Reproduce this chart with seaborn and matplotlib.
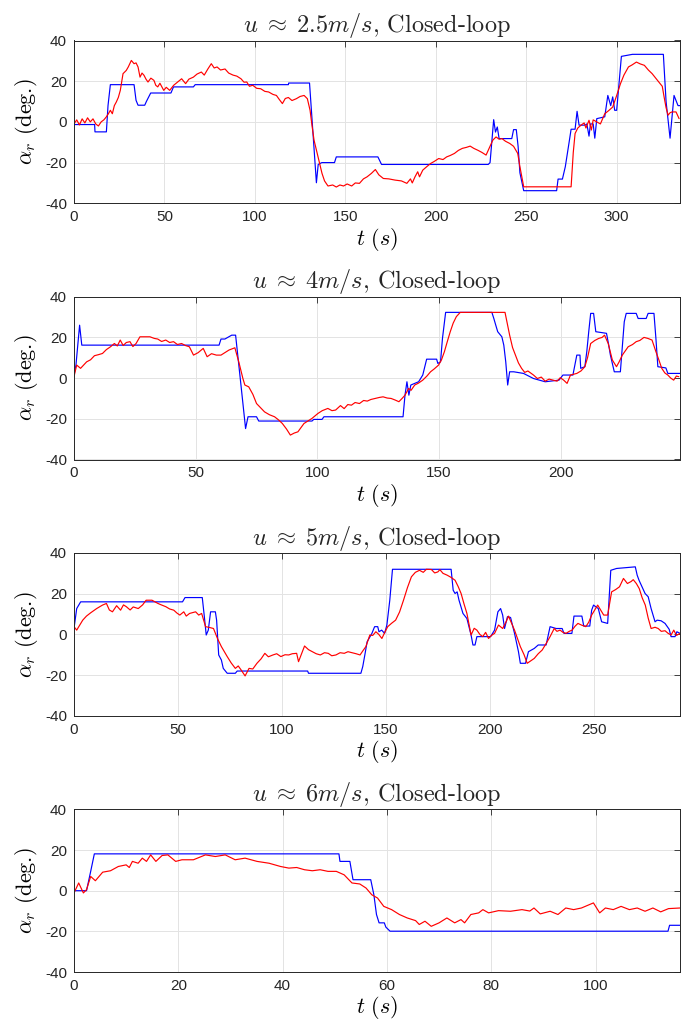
import numpy as np
import pandas as pd
import matplotlib
matplotlib.use("Agg")
import matplotlib.pyplot as plt
import seaborn as sns

# ---------------- data (t [s], alpha_r [deg]) ----------------
titles = [r"$u\;\approx\;2.5m/s$, Closed-loop", r"$u\;\approx\;4m/s$, Closed-loop",
          r"$u\;\approx\;5m/s$, Closed-loop", r"$u\;\approx\;6m/s$, Closed-loop"]
xmaxs = [335, 249, 291.5, 116.2]
xtick_steps = [50, 50, 50, 20]
yticks = [-40, -20, 0, 20, 40]

ref1 = [(0,-1.3),(11.4,-1.3),(11.6,-4.9),(17.9,-4.9),(18.8,8),(20.1,18.3),(33.2,18.3),(34.3,10.6),(35.4,8.2),(39.1,8.2),(40,10),(42.4,14.2),(53.6,14.2),(55,17.2),(66,17.2),(67,18.3),(118.5,18.3),(118.7,19.1),(130.2,19.1),(134,-29.9),(135,-20.9),(137,-20),(144,-20),(145,-17.2),(168,-17.2),(170,-20.9),(229,-20.9),(230,-20),(232,1.1),(233,-5),(234,-2.5),(235,-8.2),(242,-8.2),(243,-3.8),(244.5,-3.8),(245.5,-12),(246.5,-25),(248.6,-33.8),(266.8,-33.8),(267.6,-28.1),(270,-28.1),(271.6,-22),(273.7,-10),(274.8,-3.6),(277,-3.6),(278.1,5.2),(279.2,-1.6),(282.5,-1.6),(283.5,-1),(284.7,-7),(285.5,-1),(287,-1),(287.9,-8),(289,1.6),(293.4,2.5),(295.1,13),(296.7,8),(297.8,12.3),(298.9,5.7),(300,5.7),(302.6,32.2),(308.7,33.2),(325.8,33.2),(327.3,10),(329.5,-8),(331.7,13),(333.9,8),(335,8)]
meas1 = [(0,-1),(1.5,1),(3,-1.5),(4.5,1.5),(6,-0.5),(7.5,2),(9,0),(10.5,1.5),(12,-1),(13.5,-2),(15,0),(16.5,1),(17.9,2.5),(19,4),(20.1,5.7),(21.2,4),(22.3,8),(23.4,9.8),(24.5,12),(25.6,15.5),(27.1,23.7),(28.9,25.3),(30,27),(31.7,30.2),(33.2,28.6),(34.3,29),(35.4,27),(36.5,22),(37.6,24),(38.7,22.9),(39.8,21),(40.9,19.6),(42.5,21.5),(44.2,20.4),(45.2,18),(46.3,17.2),(47.5,19),(49.6,15.5),(51,17),(52.9,15.5),(55.1,18),(57.3,19.6),(59.5,21.2),(61.7,18.8),(63.5,21),(66,22),(68,23.5),(70.4,24.5),(72,23),(74,26),(75.9,28.6),(77.5,26.5),(79.1,27),(81,25.5),(83.5,26),(85.5,24),(87.9,23),(90,22.5),(92.3,21.2),(94,19.5),(95.5,19.6),(97,17.5),(98.8,18),(101,16.5),(103.2,16.3),(105.5,15),(107.6,14.7),(110,13.5),(111.9,13),(113.5,11),(115.2,9),(116.8,11.5),(118.5,12),(120.5,10.5),(122.9,11.4),(125,12.5),(127.2,13),(129,11.4),(130.5,5.7),(131.6,-2),(132.7,-9),(134.9,-17.2),(137.1,-25.3),(138.5,-29),(140.4,-31.5),(143,-31),(145,-32),(147,-31),(149,-31.5),(151,-30.5),(153.5,-31.5),(155.5,-30),(157.8,-30.2),(160,-28),(162,-27),(164.4,-25.3),(166.6,-23.4),(168.5,-26),(171,-27.8),(174,-28),(177.5,-28.6),(181,-29),(184,-30.2),(186,-28),(187,-30),(188.5,-27),(190,-24.5),(191,-27),(192.8,-23.7),(195,-22),(197.2,-20.4),(199,-19.5),(201.6,-18),(204,-18.5),(206,-17.2),(208,-16.5),(210.3,-15.5),(212.5,-14),(214.7,-13),(217,-12.5),(219,-11.9),(221,-13),(223.4,-14),(225.5,-15),(227.8,-16.3),(230,-12),(231.5,-9),(233.3,-7.4),(235,-8.5),(236.6,-8.2),(238.5,-9.5),(240.9,-10.6),(243,-12),(245.3,-15.5),(246.5,-22),(248.6,-31.9),(274.8,-31.9),(276,-15),(277,-5.7),(278.5,-3),(280.3,-1.6),(282,-0.5),(283,-3),(284.7,0.8),(286,-4),(287,1),(289,0),(291,-1),(293.4,4),(295.5,5.5),(297.8,7.3),(300,13),(302.1,18.8),(304,23),(306.5,27),(308.5,28),(310.9,29.4),(313,28.5),(315.3,27.8),(317.5,25.5),(319.6,23.7),(322,21),(324,18.8),(325.2,17.5),(326.2,12.3),(327.3,7),(328.4,3.3),(329.5,4.5),(330.6,4.9),(332.8,4.9),(334.5,1.6)]

ref2 = [(0,1.5),(0.8,6.4),(2.3,26),(3.2,16.2),(59.6,16.2),(60.4,19.2),(62,19.2),(64.8,21.1),(66.4,21.1),(68.6,-3.4),(70.5,-24.8),(71.5,-19),(75,-19),(75.9,-21.1),(97.8,-21.1),(98.5,-20.3),(101.9,-20.3),(102.7,-19),(135.2,-19),(136,-8.4),(136.8,-1.8),(137.6,-8.4),(138.4,-3.4),(141.6,-1.8),(143.3,1.5),(144.9,9.3),(149,9.3),(149.5,7.2),(150.6,8),(151.4,19.5),(152.7,32.3),(171.7,32.3),(172.5,29.3),(173.3,26),(174.1,22.8),(175.8,20.3),(176.6,16.2),(177.4,8),(178.2,-3.4),(179,3.1),(180.7,3.1),(184.7,2.3),(188.8,-0.2),(193.6,-1.8),(199.3,-1),(200.9,1.5),(205,1.5),(205.8,6.4),(206.6,11.3),(207.9,11.3),(208.2,4.8),(209.9,5.6),(210.7,13),(211.5,22.8),(212.3,31.8),(213.5,31.8),(214.4,22.8),(218.8,22),(219.6,17),(220.4,11.3),(222,3.1),(224.5,3.1),(226.1,27.7),(226.9,31.8),(231,31.8),(231.8,29.3),(235.1,29.3),(235.9,31.8),(238.3,31.8),(239.1,19.5),(239.9,5.6),(243.2,5),(244,2.3),(249,2.3)]
meas2 = [(0,0.7),(1.1,6.4),(2.7,4.8),(5.2,8),(6.8,9),(8.4,11),(10,11.5),(11.7,12.1),(13.3,14),(15,15.4),(16.6,17),(17.8,15.8),(19,18.7),(20.2,16),(21.5,17.5),(23,17.9),(24.2,15.5),(25.5,17),(27.1,20.3),(31.2,20.3),(33,19.5),(34.4,19.2),(36,18),(37.7,18.7),(39.3,17.5),(40.9,17.9),(42.5,16.5),(44.2,17),(45.8,16),(47.4,15.4),(49.1,11.3),(51,12.5),(53.1,14.6),(54.7,10.5),(56.5,12),(58.5,11.3),(60.4,11.3),(62,12.5),(63.7,13.8),(66.1,14.9),(67.7,8),(69.4,-0.2),(70.2,-3.4),(71.8,-4.3),(73.5,-8),(75,-12.5),(76.6,-14.5),(78.3,-16.6),(80.3,-18),(82.4,-19),(84,-20.5),(85.6,-22.3),(87.3,-25),(88.9,-28),(90.5,-27),(92,-26.4),(94.5,-22.3),(97.8,-19.8),(100.2,-17.4),(102,-16),(104.3,-14.9),(106,-16),(107.5,-15.7),(109.5,-13.5),(111,-15),(112.5,-13),(114,-13.3),(115.5,-12),(117.3,-12.5),(119,-11),(120.5,-11.3),(122,-10.5),(123.8,-10),(125.5,-9.5),(127,-9.2),(128.7,-9.8),(130.3,-10),(132,-10.8),(133.5,-11.6),(134.8,-10),(136,-8.4),(137.5,-5.1),(138.5,-6),(140,-3.4),(141.5,-2.5),(143.3,-1),(145,1),(146.5,3.1),(148,4.5),(149.8,6.4),(151,9),(152.2,13),(153.4,18),(154.6,22.8),(155.8,27),(157.1,30.2),(158.7,32.3),(177.1,32.3),(178,27),(179,21.1),(180.2,15),(181.4,11.3),(182.6,7.5),(183.9,4.8),(185.2,2.8),(186.5,3.5),(188.8,1.5),(190.4,-0.2),(192,0.5),(193.6,-1.5),(195.2,-0.5),(196.9,-1),(198.5,-1.5),(199.8,0.2),(201.2,-1),(202.6,-2.6),(204,1.5),(206.6,2.3),(208.3,3.5),(209.9,5.6),(211,10),(212.3,17),(214,18.5),(215.6,19.5),(217,20),(218,21.1),(219.5,17),(221.2,8.9),(222.9,5.6),(224,8),(225.3,11.3),(227.7,15.4),(229.5,16.5),(231,17.9),(232.5,18.5),(234.2,20),(235.8,19.5),(237.5,18.7),(239.1,13),(240.3,9),(241.5,4.8),(242.8,2.5),(244,1.5),(245.2,0),(246.4,-1),(247.5,1),(248.5,0.7)]

ref3 = [(0,2.9),(1.3,12.7),(3.2,16),(52.2,16),(53.4,18.1),(61.7,18.1),(62.7,8.7),(63.6,-0.3),(64.6,2.1),(65.7,11.1),(68,11.1),(68.6,7),(69.6,-10.1),(70.9,-12.6),(71.8,-16.7),(73.7,-19.1),(77.6,-19.1),(78.5,-18),(112.4,-18),(112.8,-19.1),(138,-19.1),(138.9,-15.8),(139.9,-10.1),(141,-3.6),(143.3,0.5),(144.6,3.8),(146.1,3.8),(146.7,1.3),(148,2.1),(149.4,0.5),(150.5,4.6),(151.9,16.8),(153.2,32),(181.4,32),(182.4,21.7),(183.3,20.1),(184.3,20.9),(185.2,16.8),(187.1,10.3),(189,7.8),(191,-0.3),(191.9,-5.2),(192.9,-5.2),(193.8,-1.1),(200.4,-1.1),(202.3,2.1),(203.9,11.1),(205.2,12.7),(206.2,9.5),(207.1,2.9),(208.5,8.7),(210,8.3),(211.9,0.5),(213.8,-8.5),(214.7,-14.2),(217.2,-14.2),(218.6,-8.5),(221.4,-6.9),(223.3,-5.2),(227.1,-5.2),(229,3.8),(231.9,2.9),(234.8,2.9),(235.7,0.5),(239.5,0.5),(240.5,9),(244.3,9),(245.2,4.1),(248.1,4.1),(249,11.9),(249.9,14.4),(252.2,12.7),(253.8,6.2),(256.7,5.4),(258.2,31.5),(261,32.4),(270,33.2),(270.9,29.1),(271.8,26.6),(274.7,20.1),(276.2,18.5),(277.6,12.7),(279.5,6.2),(280.5,7),(282.4,6.7),(284.3,5.4),(286.3,2.5),(287.2,-1.1),(289.1,-1.1),(290,1.3),(291.5,0.5)]
meas3 = [(0,3.8),(1.3,2.1),(4.2,7),(6,9),(8,10.6),(10.9,12.7),(13.7,14.4),(15.6,15.2),(17,12),(18.5,11.1),(20.5,14.1),(22.4,11.9),(23.8,14.5),(25.2,13.6),(27,12),(28.5,13.5),(30.9,12.7),(33,14.5),(34.7,16.8),(37.5,16.8),(40.4,15.2),(42,14.5),(44.2,13.6),(46,12.5),(48,11.9),(49.5,10.5),(50.9,9.5),(52.8,11.1),(54,9),(55.6,10.3),(58.5,11.1),(60,9.5),(61.4,10.3),(63.3,3.8),(65.2,3.4),(67.1,2.9),(69,-2),(70.9,-6),(73.7,-10.9),(75.6,-14),(77.6,-16.7),(79,-15.5),(80.4,-17.5),(82.3,-20.4),(84.2,-16.7),(86,-17),(88,-14.2),(90,-12),(91.8,-9.3),(93.5,-11),(95.7,-10.1),(97.5,-9.5),(99.5,-10.9),(101.5,-10),(103.3,-10.1),(105,-9.5),(107.1,-9.3),(108,-13.4),(110.9,-5.7),(112.8,-7.5),(114.7,-8.5),(116.5,-9.5),(118.5,-10.1),(120.5,-9),(122.3,-9.3),(124,-10.5),(126,-10.1),(128,-9),(130,-9.3),(131.8,-8.5),(133.8,-9),(135.7,-9.5),(137.6,-10.1),(139,-8),(140.4,-6),(142.3,-0.3),(143.7,-0.5),(145.2,1.3),(146.6,0),(148.1,-2),(149.5,1),(150.9,3.8),(152.8,5.5),(154.7,7),(156.6,11),(158.5,16.8),(160.4,23),(162.3,28.3),(164.2,30.5),(166.2,31.5),(168,30.5),(169.5,32),(171.9,31.9),(173.5,30.2),(175,30.7),(176,31.8),(177.5,30),(179.5,29.1),(181.4,28),(183.3,26.6),(184.8,23.5),(186.2,20.1),(187.6,15),(189,10.3),(191,-0.3),(192.5,3),(193.8,2.1),(195.2,0),(196.6,-1.1),(198,1),(199.4,-2),(200.8,-0.5),(202.3,0.5),(204.2,4.6),(206.2,2.9),(208,6.5),(209,9),(211.9,2.1),(214.7,-6),(216.5,-10),(218,-14.2),(219.7,-13),(221.4,-11.8),(223.3,-9.5),(225.2,-7.7),(227.1,-4.5),(229,-1.1),(231,2.9),(232.3,1.5),(233.8,2.1),(235.2,1),(236.7,0.5),(238.2,1.5),(239.6,2.1),(241,4),(242.4,5.4),(244.3,4.5),(246.2,3.8),(247.6,6),(249,9.5),(250.5,12),(251.9,14.4),(253.3,12),(254.8,9.5),(256.7,9.5),(258.6,20.9),(260.5,22),(262.4,23.4),(264.3,27.5),(266.2,25),(268,26),(269,26.9),(270.5,25),(271.9,22.5),(273.3,18),(274.8,14.4),(276.2,8),(277.6,2.9),(279.5,3.5),(281,2.9),(282.5,1.5),(284.3,1.8),(285.8,0.5),(287.2,-0.3),(288.5,2.1),(289.8,-0.5),(291.5,0.5)]

ref4 = [(0,0),(2.4,0),(3.2,9.5),(3.9,18.1),(50.8,18.1),(51,14.4),(52.9,14.4),(53.5,5.4),(56.9,5.4),(57.5,-2),(58,-11.7),(58.5,-15.8),(59.5,-15.8),(59.8,-17.9),(60.6,-19.9),(113.9,-19.9),(114.2,-17),(116.2,-17)]
meas4 = [(0,-1.1),(0.9,3.8),(1.8,-1.1),(2.4,0.5),(3.2,7),(4.1,4.9),(5.5,9.1),(7,9.8),(8.5,11.9),(10,12.7),(10.6,11.4),(11.2,14.4),(12.3,13.5),(13.1,16),(13.9,14.4),(14.7,17.6),(15.7,14.4),(16.9,17.3),(18,17.6),(19.5,14.4),(20.7,15.2),(22.9,15.2),(25.2,17.6),(27.1,16.8),(29,17.6),(30.9,15.2),(32.8,16),(35.1,14.4),(37.4,13.5),(39.6,11.9),(41.2,11.1),(42.7,11.4),(44.2,10.3),(45.7,9.8),(47.2,10.3),(48.7,9.5),(50.3,9.5),(51.8,7.8),(53.3,3.8),(54.8,3.3),(56,1.3),(57.1,-2),(58.2,-3.6),(59.4,-7.7),(60.9,-9.3),(62.4,-11.7),(63.9,-13.4),(65.5,-14.7),(66.2,-16.6),(67.3,-15),(68.5,-17.5),(70,-15.8),(71.5,-13.4),(73,-15.8),(74.2,-14.2),(74.9,-15.8),(76.1,-11.7),(77.6,-10.9),(78.4,-9.3),(79.5,-10.9),(81.4,-9.8),(83.7,-10.1),(85.9,-9.3),(87.4,-10),(88.2,-8.5),(89.4,-11.4),(91.3,-10.1),(92.8,-11.7),(94.3,-8.5),(95.8,-9.3),(97.3,-8.5),(99.6,-6),(100.8,-10.9),(101.9,-8.5),(103.4,-9.3),(104.9,-7.7),(106.5,-9.3),(108,-8.5),(109.5,-10.1),(111,-8.5),(112.5,-10.4),(114,-8.8),(116.2,-8.5)]

refs = [ref1, ref2, ref3, ref4]
meass = [meas1, meas2, meas3, meas4]

# ---------------- style ----------------
sns.set_style("white")
plt.rcParams["font.family"] = ["Liberation Sans", "DejaVu Sans"]
plt.rcParams["mathtext.fontset"] = "cm"
plt.rcParams["axes.unicode_minus"] = False

W, H = 681, 1030
fig = plt.figure(figsize=(W / 100, H / 100), dpi=100)
left_px, right_px = 74, 680
tops = [40.5, 296.7, 553.0, 809.3]
height_px = 162.8
axc = "#262626"

for i in range(4):
    top = tops[i]
    ax = fig.add_axes([left_px / W, (H - top - height_px) / H,
                       (right_px - left_px) / W, height_px / H])
    dref = pd.DataFrame(refs[i], columns=["t", "a"])
    dmeas = pd.DataFrame(meass[i], columns=["t", "a"])
    sns.lineplot(data=dref, x="t", y="a", ax=ax, color=(0, 0, 1), lw=0.85,
                 estimator=None, sort=False)
    sns.lineplot(data=dmeas, x="t", y="a", ax=ax, color=(1, 0, 0), lw=0.85,
                 estimator=None, sort=False)
    ax.set_xlim(0, xmaxs[i])
    ax.set_ylim(-40, 40)
    ax.set_yticks(yticks)
    ax.set_xticks(np.arange(0, xmaxs[i], xtick_steps[i]))
    ax.grid(True, color="#e3e3e3", lw=0.7)
    ax.set_axisbelow(True)
    for s in ax.spines.values():
        s.set_color(axc)
        s.set_linewidth(0.7)
    ax.tick_params(direction="in", top=True, right=True, length=4, width=0.6,
                   labelsize=11, colors=axc, pad=5)
    ax.set_title(titles[i], fontsize=17.5, family="cmr10", pad=6)
    ax.set_xlabel(r"$t\ (s)$", fontsize=16, labelpad=1, color="black")
    ax.set_ylabel(r"$\alpha_r$ (deg.)", fontsize=16, family="cmr10",
                  labelpad=4, color="black")

fig.savefig("out.png", dpi=100)
